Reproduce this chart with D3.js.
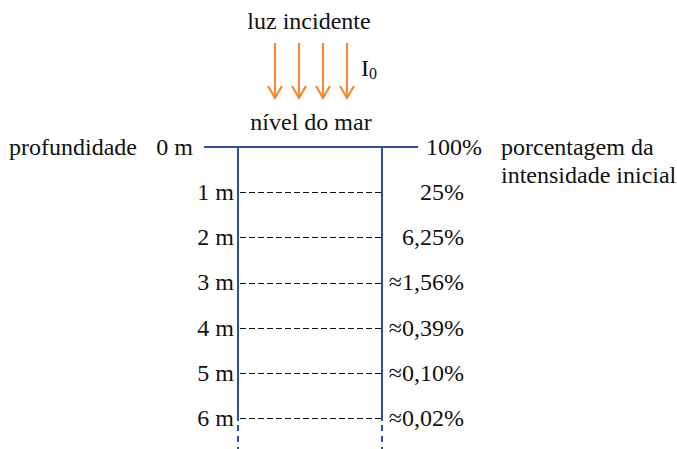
<!DOCTYPE html>
<html><head><meta charset="utf-8">
<script src="https://cdn.jsdelivr.net/npm/d3@7"></script>
<style>body{margin:0;background:#fff}svg{display:block}</style>
</head><body>
<script>
const depths = [0, 1, 2, 3, 4, 5, 6];
const depthLabels = ["0 m", "1 m", "2 m", "3 m", "4 m", "5 m", "6 m"];
const percentLabels = ["100%", "25%", "6,25%", "≈1,56%", "≈0,39%", "≈0,10%", "≈0,02%"];
const arrows = [0, 1, 2, 3];

const W = 677, H = 449;
const blue = "#2E4F9E", orange = "#F28B35";
const FONT = "Liberation Serif";
const FS = 24;
const svg = d3.select("body").append("svg").attr("width", W).attr("height", H);

function txt(sel) {
  return sel.attr("font-family", FONT).attr("font-size", FS).attr("fill", "#111");
}

const y = d3.scaleLinear().domain([0, 6]).range([147, 418]);
const yc = d => Math.round(y(d)) + 0.5;
const xL = 238, xR = 382;
const ax = d3.scaleLinear().domain([0, 3]).range([275, 347]);

// title
txt(svg.append("text")).attr("x", 309).attr("y", 29).attr("text-anchor", "middle").text("luz incidente");

// arrows
const ag = svg.append("g").attr("stroke", orange).attr("stroke-width", 2.2).attr("fill", "none");
arrows.forEach(i => {
  const x = ax(i);
  ag.append("line").attr("x1", x).attr("x2", x).attr("y1", 43).attr("y2", 97);
  ag.append("path").attr("d", `M${x-7},${86} L${x},${98} L${x+7},${86}`).attr("stroke-linejoin", "miter");
});
const i0 = txt(svg.append("text")).attr("x", 361).attr("y", 76);
i0.append("tspan").text("I");
i0.append("tspan").attr("font-size", 16).attr("dy", 3).text("0");

txt(svg.append("text")).attr("x", 311).attr("y", 130).attr("text-anchor", "middle").text("nível do mar");

// sea level line
svg.append("line").attr("x1", 204).attr("x2", 418).attr("y1", y(0)).attr("y2", y(0)).attr("stroke", blue).attr("stroke-width", 2);

// verticals
[xL, xR].forEach(x => {
  svg.append("line").attr("x1", x).attr("x2", x).attr("y1", y(0)).attr("y2", 421).attr("stroke", blue).attr("stroke-width", 2);
  svg.append("line").attr("x1", x).attr("x2", x).attr("y1", 425).attr("y2", H).attr("stroke", blue).attr("stroke-width", 2).attr("stroke-dasharray", "6,5");
});

// dashed depth lines
svg.selectAll("line.depth").data(depths.slice(1)).join("line").attr("class", "depth")
  .attr("x1", xL + 2).attr("x2", xR - 1).attr("y1", yc).attr("y2", yc)
  .attr("stroke", "#111").attr("stroke-width", 1).attr("stroke-dasharray", "6,3");

// depth labels
txt(svg.selectAll("text.dl").data(depths).join("text").attr("class", "dl"))
  .attr("x", d => d === 0 ? 193 : 234).attr("y", d => y(d)).attr("dy", "0.33em")
  .attr("text-anchor", "end").text((d, i) => depthLabels[i]);

// percent labels
txt(svg.selectAll("text.pl").data(depths).join("text").attr("class", "pl"))
  .attr("x", d => d === 0 ? 426 : 464).attr("y", d => y(d)).attr("dy", "0.33em")
  .attr("text-anchor", d => d === 0 ? "start" : "end").text((d, i) => percentLabels[i]);

txt(svg.append("text")).attr("x", 9).attr("y", y(0)).attr("dy", "0.33em").text("profundidade");
txt(svg.append("text")).attr("x", 501).attr("y", y(0)).attr("dy", "0.33em").text("porcentagem da");
txt(svg.append("text")).attr("x", 501).attr("y", 175).attr("dy", "0.33em").text("intensidade inicial");
</script>
</body></html>
